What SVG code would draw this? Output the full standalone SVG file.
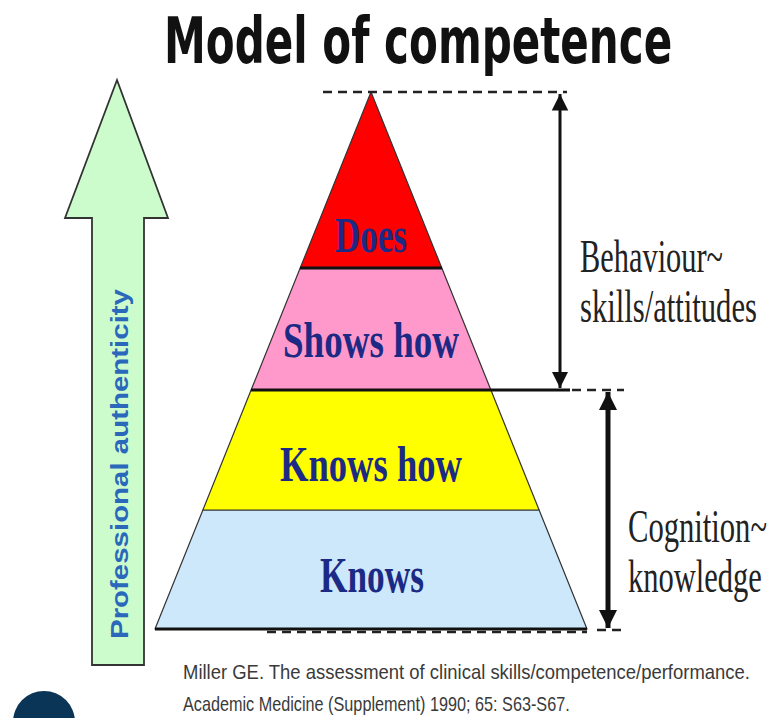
<svg xmlns="http://www.w3.org/2000/svg" width="781" height="718" viewBox="0 0 781 718">
<style>
.title{font-family:"DejaVu Sans","Liberation Sans",sans-serif;font-weight:bold;font-size:64px;fill:#111}
.lvl{font-family:"Liberation Serif","Times New Roman",serif;font-weight:bold;font-size:50px;fill:#1c2a85;text-anchor:middle}
.side{font-family:"Liberation Serif","Times New Roman",serif;font-size:46px;fill:#222}
.cite{font-family:"Liberation Sans",Arial,sans-serif;font-size:20px;fill:#3a3a3a}
.vert{font-family:"Liberation Sans",Arial,sans-serif;font-weight:bold;font-size:23px;fill:#2a68bb}
.edge{stroke:#333;stroke-width:1.2;stroke-linejoin:round}
.div{stroke:#111;stroke-width:3}
.dash{stroke:#222;stroke-width:2.5;stroke-dasharray:9 6;fill:none}
</style>
<defs>
<marker id="ah" viewBox="0 0 10 10" refX="10" refY="5" markerWidth="5.5" markerHeight="6" markerUnits="strokeWidth" orient="auto-start-reverse">
<path d="M0,0 L10,5 L0,10 z" fill="#111"/>
</marker>
<marker id="ah2" viewBox="0 0 10 10" refX="10" refY="5" markerWidth="4" markerHeight="3.6" markerUnits="strokeWidth" orient="auto-start-reverse">
<path d="M0,0 L10,5 L0,10 z" fill="#111"/>
</marker>
</defs>
<rect width="781" height="718" fill="#fff"/>
<text class="title" transform="translate(164,63) scale(0.66,1)" textLength="770" lengthAdjust="spacingAndGlyphs">Model of competence</text>
<g id="authenticity-arrow">
<path d="M117,80 L168,218 L144,218 L144,665 L92,665 L92,218 L65,218 Z" fill="#ccfccc" stroke="#333" stroke-width="1.8" stroke-linejoin="miter"/>
<text class="vert" transform="translate(128,639) rotate(-90)" textLength="350" lengthAdjust="spacingAndGlyphs">Professional authenticity</text>
</g>
<g id="level-knows">
<polygon class="edge" points="202.9,510 539.1,510 587,629 155,629" fill="#cce8fa"/>
<text class="lvl" transform="translate(372,592) scale(0.707,1)" textLength="147" lengthAdjust="spacingAndGlyphs">Knows</text>
</g>
<g id="level-knows-how">
<polygon class="edge" points="251.1,390 490.9,390 539.1,510 202.9,510" fill="#ffff00"/>
<text class="lvl" transform="translate(371,481) scale(0.732,1)" textLength="248.6" lengthAdjust="spacingAndGlyphs">Knows how</text>
</g>
<g id="level-shows-how">
<polygon class="edge" points="300.2,268 441.8,268 490.9,390 251.1,390" fill="#ff99cc"/>
<text class="lvl" transform="translate(371,357) scale(0.74,1)" textLength="237.8" lengthAdjust="spacingAndGlyphs">Shows how</text>
</g>
<g id="level-does">
<polygon class="edge" points="371,92 441.8,268 300.2,268" fill="#ff0000"/>
<text class="lvl" transform="translate(371,252) scale(0.7,1)" textLength="102.8" lengthAdjust="spacingAndGlyphs">Does</text>
</g>
<g id="connectors">
<line class="div" x1="300" y1="268" x2="442" y2="268"/>
<line class="div" x1="251" y1="390" x2="570" y2="390"/>
<line class="div" x1="155" y1="629" x2="587" y2="629" stroke-width="2.5"/>
<line class="dash" x1="323" y1="92" x2="567" y2="92"/>
<line class="dash" x1="572" y1="390" x2="624" y2="390"/>
<line class="dash" x1="267" y1="632" x2="587" y2="632"/>
<line class="dash" x1="597" y1="630" x2="624" y2="630"/>
<line x1="560" y1="94" x2="560" y2="388" stroke="#111" stroke-width="3" marker-start="url(#ah)" marker-end="url(#ah)"/>
<line x1="608" y1="392" x2="608" y2="628" stroke="#111" stroke-width="5" marker-start="url(#ah2)" marker-end="url(#ah2)"/>
</g>
<g id="labels">
<text class="side" transform="translate(580,272) scale(0.66,1)" textLength="216.7" lengthAdjust="spacingAndGlyphs">Behaviour~</text>
<text class="side" transform="translate(580,322) scale(0.665,1)" textLength="266" lengthAdjust="spacingAndGlyphs">skills/attitudes</text>
<text class="side" transform="translate(628,542) scale(0.665,1)" textLength="209" lengthAdjust="spacingAndGlyphs">Cognition~</text>
<text class="side" transform="translate(628,592) scale(0.663,1)" textLength="202" lengthAdjust="spacingAndGlyphs">knowledge</text>
</g>
<g id="citation">
<text class="cite" transform="translate(183,679) scale(0.85,1)" textLength="667" lengthAdjust="spacingAndGlyphs">Miller GE. The assessment of clinical skills/competence/performance.</text>
<text class="cite" transform="translate(183,711) scale(0.85,1)" textLength="455" lengthAdjust="spacingAndGlyphs">Academic Medicine (Supplement) 1990; 65: S63-S67.</text>
</g>
<circle cx="44" cy="722" r="31" fill="#0b3556"/>
</svg>
